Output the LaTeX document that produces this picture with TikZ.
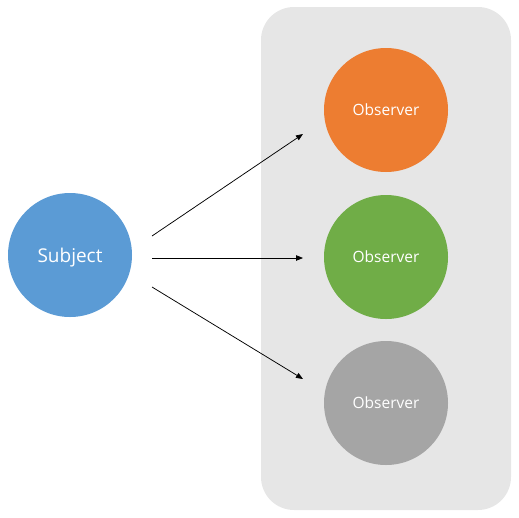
\documentclass[tikz,border=0pt]{standalone}
\usepackage{fontspec}
\setmainfont{Open Sans}
\usetikzlibrary{arrows.meta}
\definecolor{subjblue}{HTML}{5B9BD5}
\definecolor{obsorange}{HTML}{ED7D31}
\definecolor{obsgreen}{HTML}{70AD47}
\definecolor{obsgray}{HTML}{A5A5A5}
\definecolor{panelgray}{HTML}{E6E6E6}
\begin{document}
\begin{tikzpicture}[x=1pt, y=-1pt,
    circ/.style = {circle, minimum size=124pt, inner sep=0pt, text depth=0pt, text=white},
    arr/.style = {-{Triangle[length=7pt,width=5.5pt]}, line width=0.75pt}]
  \useasboundingbox (0,0) rectangle (519,517);
  \fill[panelgray, rounded corners=33pt] (261,7) rectangle (511,510);
  \node[circ, fill=subjblue, font=\fontsize{19}{22}\selectfont] (subject) at (70,255) {Subject};
  \node[circ, fill=obsorange, font=\fontsize{15.5}{18}\selectfont] (obsA) at (386,110) {Observer};
  \node[circ, fill=obsgreen, font=\fontsize{15.5}{18}\selectfont] (obsB) at (386,257) {Observer};
  \node[circ, fill=obsgray, font=\fontsize{15.5}{18}\selectfont] (obsC) at (386,403) {Observer};
  \coordinate (s1) at (152,236);
  \coordinate (s2) at (152,258);
  \coordinate (s3) at (152,287);
  \coordinate (t1) at (303,134);
  \coordinate (t2) at (303,258);
  \coordinate (t3) at (303,379);
  \draw[arr] (s1) -- (t1);
  \draw[arr] (s2) -- (t2);
  \draw[arr] (s3) -- (t3);
\end{tikzpicture}
\end{document}
